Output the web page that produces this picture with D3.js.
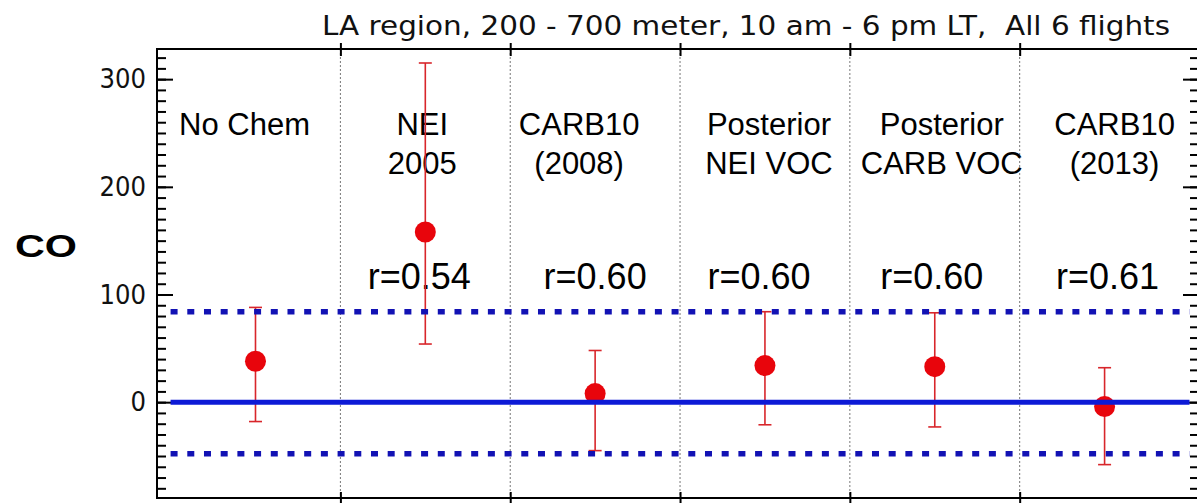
<!DOCTYPE html>
<html>
<head>
<meta charset="utf-8">
<script src="https://cdn.jsdelivr.net/npm/d3@7"></script>
<style>
  html, body { margin: 0; padding: 0; background: #fff; }
  svg { display: block; }
  text { white-space: pre; }
</style>
</head>
<body>
<svg id="chart" width="1197" height="503"></svg>
<script>
// Model runs compared against CO observations
const categories = ["No Chem", "NEI 2005", "CARB10 (2008)", "Posterior NEI VOC", "Posterior CARB VOC", "CARB10 (2013)"];
const labelLines = [["No Chem"], ["NEI", "2005"], ["CARB10", "(2008)"], ["Posterior", "NEI VOC"], ["Posterior", "CARB VOC"], ["CARB10", "(2013)"]];
const position = [1, 2, 3, 4, 5, 6];
const meanBias = [38, 158, 8, 34, 33, -4];
const errLow = [-18, 54, -45, -21, -23, -58];
const errHigh = [88, 315, 48, 84, 83, 32];
const rLabels = [null, "r=0.54", "r=0.60", "r=0.60", "r=0.60", "r=0.61"];
const separators = [1.5, 2.5, 3.5, 4.5, 5.5];
const refZero = 0;
const refBand = [84, -48];
const yMajorTicks = [0, 100, 200, 300];
const yMinorTicks = d3.range(-80, 330, 10);
const titleText = "LA region, 200 - 700 meter, 10 am - 6 pm LT,  All 6 flights";
const yLabel = "CO";

// layout
const plotLeft = 157, plotRight = 1199, plotTop = 49, plotBottom = 498;
const catDx = [-11, -3, -16, 4, 7, 10];
const rDx = [0, -6, 0, -6, -3, 3];

const svg = d3.select("#chart");
const x = d3.scaleLinear().domain([0.42, 6.556]).range([plotLeft, plotRight]);
const y = d3.scaleLinear().domain([-89, 328]).range([plotBottom, plotTop]);

const SANS = "'Liberation Sans', Arial, Helvetica, sans-serif";
const ROUND = "'DejaVu Sans', 'Lucida Grande', Verdana, sans-serif";

// title
svg.append("text")
  .attr("x", 322).attr("y", 35)
  .attr("font-family", ROUND).attr("font-size", 27)
  .attr("textLength", 848).attr("lengthAdjust", "spacingAndGlyphs")
  .attr("fill", "#111")
  .text(titleText);

// y label
svg.append("text")
  .attr("x", 15).attr("y", 257)
  .attr("font-family", SANS).attr("font-size", 31).attr("font-weight", "bold")
  .attr("textLength", 62).attr("lengthAdjust", "spacingAndGlyphs")
  .text(yLabel);

// dotted separators between runs
svg.append("g").selectAll("line").data(separators).join("line")
  .attr("x1", d => x(d)).attr("x2", d => x(d))
  .attr("y1", plotTop).attr("y2", plotBottom)
  .attr("stroke", "#777").attr("stroke-width", 1)
  .attr("stroke-dasharray", "2,2");

// frame
svg.append("rect")
  .attr("x", plotLeft).attr("y", plotTop)
  .attr("width", plotRight - plotLeft).attr("height", plotBottom - plotTop)
  .attr("fill", "none").attr("stroke", "#000").attr("stroke-width", 2);

// left and right axes: minor then major ticks
const gLeftMinor = svg.append("g").attr("transform", `translate(${plotLeft},0)`)
  .call(d3.axisLeft(y).tickValues(yMinorTicks).tickSize(-9).tickFormat(""));
const gLeftMajor = svg.append("g").attr("transform", `translate(${plotLeft},0)`)
  .call(d3.axisLeft(y).tickValues(yMajorTicks).tickSize(-16).tickPadding(11));
const gRightMinor = svg.append("g").attr("transform", `translate(${plotRight},0)`)
  .call(d3.axisRight(y).tickValues(yMinorTicks).tickSize(-9).tickFormat(""));
const gRightMajor = svg.append("g").attr("transform", `translate(${plotRight},0)`)
  .call(d3.axisRight(y).tickValues(yMajorTicks).tickSize(-16).tickFormat(""));
[gLeftMinor, gLeftMajor, gRightMinor, gRightMajor].forEach(g => {
  g.select(".domain").remove();
  g.selectAll(".tick line").attr("stroke", "#000").attr("stroke-width", 2);
});
gLeftMajor.selectAll(".tick text")
  .attr("font-family", ROUND).attr("font-size", 27).attr("fill", "#111")
  .attr("x", -11)
  .attr("textLength", d => String(d).length * 15.5)
  .attr("lengthAdjust", "spacingAndGlyphs");

// top and bottom ticks at the separators (crossing the frame)
const gTop = svg.append("g").attr("transform", `translate(0,${plotTop})`)
  .call(d3.axisTop(x).tickValues(separators).tickSize(6).tickFormat(""));
const gBottom = svg.append("g").attr("transform", `translate(0,${plotBottom})`)
  .call(d3.axisBottom(x).tickValues(separators).tickSize(6).tickFormat(""));
[gTop, gBottom].forEach(g => {
  g.select(".domain").remove();
  g.selectAll(".tick line").attr("y1", -6).attr("y2", 7)
    .attr("stroke", "#000").attr("stroke-width", 2);
});

// category labels
labelLines.forEach((lines, i) => {
  lines.forEach((t, j) => {
    svg.append("text")
      .attr("x", x(position[i]) + catDx[i])
      .attr("y", 135 + j * 39)
      .attr("text-anchor", "middle")
      .attr("font-family", SANS).attr("font-size", 31)
      .attr("fill", "#000")
      .text(t);
  });
});

// correlation labels
rLabels.forEach((t, i) => {
  if (!t) return;
  svg.append("text")
    .attr("x", x(position[i]) + rDx[i])
    .attr("y", 289)
    .attr("text-anchor", "middle")
    .attr("font-family", SANS).attr("font-size", 36)
    .attr("fill", "#000")
    .text(t);
});

// error bars and mean markers
const red = "#d8262b";
const capW = 6.5;
const gErr = svg.append("g");
position.forEach((p, i) => {
  const cx = x(p);
  gErr.append("line")
    .attr("x1", cx).attr("x2", cx)
    .attr("y1", y(errLow[i])).attr("y2", y(errHigh[i]))
    .attr("stroke", red).attr("stroke-width", 1.6);
  [errLow[i], errHigh[i]].forEach(v => {
    gErr.append("line")
      .attr("x1", cx - capW).attr("x2", cx + capW)
      .attr("y1", y(v)).attr("y2", y(v))
      .attr("stroke", red).attr("stroke-width", 1.6);
  });
});
svg.append("g").selectAll("circle").data(position).join("circle")
  .attr("cx", d => x(d))
  .attr("cy", (d, i) => y(meanBias[i]))
  .attr("r", 10.5)
  .attr("fill", "#e8050c");

// reference lines: zero and uncertainty band
svg.append("line")
  .attr("x1", x(0.5)).attr("x2", x(6.5))
  .attr("y1", y(refZero)).attr("y2", y(refZero))
  .attr("stroke", "#0d1ad6").attr("stroke-width", 5);
svg.append("g").selectAll("line").data(refBand).join("line")
  .attr("x1", x(0.5)).attr("x2", x(6.5))
  .attr("y1", d => y(d)).attr("y2", d => y(d))
  .attr("stroke", "#1212b4").attr("stroke-width", 5.5)
  .attr("stroke-dasharray", "7,9.7");
</script>
</body>
</html>
